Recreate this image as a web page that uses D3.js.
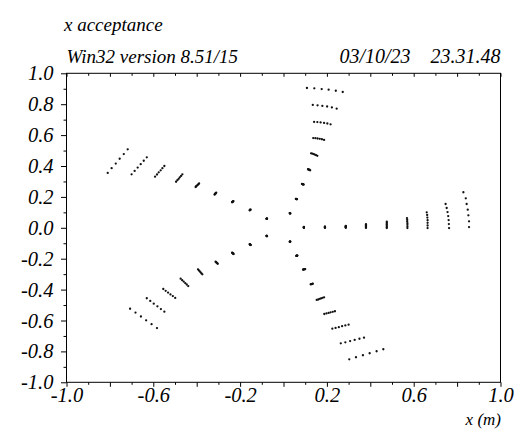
<!DOCTYPE html>
<html>
<head>
<meta charset="utf-8">
<script src="https://cdn.jsdelivr.net/npm/d3@7"></script>
<style>
  html, body { margin: 0; padding: 0; background: #fff; }
  svg text { font-family: "Liberation Serif", "DejaVu Serif", serif; font-style: italic; font-size: 19px; fill: #000; }
</style>
</head>
<body>
<svg id="chart" width="514" height="429"></svg>
<script>
// x acceptance: five arms, nine groups of tracked points per arm

var titleText = "x acceptance";
var versionText = "Win32 version 8.51/15";
var dateText = "03/10/23    23.31.48";
var xAxisTitle = "x (m)";

var xMajorTicks = [-1.0, -0.8, -0.6, -0.4, -0.2, 0.0, 0.2, 0.4, 0.6, 0.8, 1.0];
var xMinorTicks = [-0.9, -0.7, -0.5, -0.3, -0.1, 0.1, 0.3, 0.5, 0.7, 0.9];
var xTickLabels = [-1.0, -0.6, -0.2, 0.2, 0.6, 1.0];
var yMajorTicks = [-1.0, -0.8, -0.6, -0.4, -0.2, 0.0, 0.2, 0.4, 0.6, 0.8, 1.0];
var yMinorTicks = [-0.9, -0.7, -0.5, -0.3, -0.1, 0.1, 0.3, 0.5, 0.7, 0.9];

var armEast = [
  [[0.094,0.006],[0.094,0.005],[0.094,0.004],[0.094,0.003],[0.094,0.002],[0.094,0.001],[0.094,0.000]],
  [[0.191,0.008],[0.191,0.007],[0.191,0.005],[0.191,0.004],[0.191,0.003],[0.191,0.001],[0.191,0.000]],
  [[0.287,0.012],[0.287,0.010],[0.287,0.008],[0.287,0.006],[0.287,0.004],[0.287,0.002],[0.287,0.000]],
  [[0.380,0.023],[0.380,0.019],[0.380,0.015],[0.380,0.011],[0.380,0.007],[0.380,0.003],[0.380,-0.001]],
  [[0.476,0.039],[0.476,0.032],[0.476,0.025],[0.476,0.018],[0.476,0.011],[0.476,0.004],[0.476,-0.002]],
  [[0.569,0.063],[0.570,0.052],[0.570,0.041],[0.571,0.030],[0.571,0.019],[0.571,0.008],[0.571,-0.002]],
  [[0.660,0.100],[0.662,0.083],[0.663,0.066],[0.664,0.049],[0.664,0.032],[0.664,0.015],[0.664,-0.002]],
  [[0.747,0.154],[0.752,0.128],[0.756,0.102],[0.759,0.076],[0.761,0.050],[0.762,0.024],[0.763,-0.002]],
  [[0.829,0.230],[0.840,0.191],[0.844,0.154],[0.849,0.117],[0.852,0.081],[0.855,0.042],[0.855,0.005]]
];

var armNorth = [
  [[0.029,0.095],[0.029,0.095],[0.030,0.094],[0.030,0.094],[0.031,0.093],[0.031,0.093]],
  [[0.057,0.187],[0.058,0.187],[0.059,0.186],[0.060,0.186],[0.061,0.185],[0.062,0.185]],
  [[0.085,0.284],[0.087,0.283],[0.088,0.282],[0.090,0.282],[0.091,0.281],[0.093,0.280]],
  [[0.113,0.379],[0.115,0.378],[0.117,0.377],[0.119,0.375],[0.121,0.374],[0.123,0.372]],
  [[0.127,0.482],[0.133,0.480],[0.139,0.477],[0.144,0.474],[0.150,0.470],[0.156,0.466]],
  [[0.137,0.581],[0.147,0.580],[0.157,0.578],[0.167,0.576],[0.177,0.573],[0.187,0.569]],
  [[0.141,0.685],[0.156,0.684],[0.171,0.682],[0.187,0.679],[0.202,0.675],[0.217,0.670]],
  [[0.135,0.795],[0.157,0.793],[0.179,0.789],[0.201,0.785],[0.223,0.779],[0.245,0.771]],
  [[0.108,0.905],[0.142,0.903],[0.176,0.898],[0.208,0.894],[0.241,0.887],[0.273,0.879]]
];

var armNorthWest = [
  [[-0.078,0.058],[-0.078,0.058],[-0.077,0.059],[-0.077,0.059],[-0.076,0.060],[-0.076,0.060]],
  [[-0.156,0.113],[-0.155,0.114],[-0.154,0.115],[-0.154,0.116],[-0.153,0.117],[-0.152,0.118]],
  [[-0.237,0.165],[-0.236,0.167],[-0.235,0.168],[-0.233,0.170],[-0.232,0.171],[-0.231,0.173]],
  [[-0.318,0.215],[-0.316,0.217],[-0.315,0.220],[-0.313,0.222],[-0.312,0.225],[-0.310,0.227]],
  [[-0.405,0.264],[-0.402,0.269],[-0.399,0.273],[-0.395,0.278],[-0.392,0.282],[-0.389,0.287]],
  [[-0.495,0.298],[-0.489,0.308],[-0.483,0.317],[-0.478,0.327],[-0.472,0.336],[-0.466,0.346]],
  [[-0.592,0.331],[-0.583,0.345],[-0.575,0.359],[-0.566,0.372],[-0.558,0.386],[-0.549,0.400]],
  [[-0.700,0.346],[-0.686,0.368],[-0.672,0.390],[-0.658,0.412],[-0.644,0.434],[-0.630,0.456]],
  [[-0.810,0.355],[-0.792,0.386],[-0.773,0.416],[-0.755,0.447],[-0.736,0.477],[-0.718,0.508]]
];

var armSouthWest = [
  [[-0.078,-0.052],[-0.078,-0.052],[-0.077,-0.053],[-0.077,-0.053],[-0.076,-0.054],[-0.076,-0.054]],
  [[-0.156,-0.106],[-0.155,-0.107],[-0.154,-0.108],[-0.153,-0.110],[-0.152,-0.111],[-0.151,-0.112]],
  [[-0.237,-0.161],[-0.235,-0.163],[-0.234,-0.165],[-0.233,-0.166],[-0.231,-0.168],[-0.230,-0.170]],
  [[-0.313,-0.219],[-0.311,-0.222],[-0.309,-0.225],[-0.307,-0.227],[-0.305,-0.230],[-0.303,-0.233]],
  [[-0.394,-0.269],[-0.390,-0.275],[-0.386,-0.282],[-0.382,-0.288],[-0.378,-0.295],[-0.374,-0.301]],
  [[-0.474,-0.329],[-0.467,-0.339],[-0.460,-0.348],[-0.453,-0.358],[-0.446,-0.367],[-0.439,-0.377]],
  [[-0.554,-0.396],[-0.543,-0.408],[-0.532,-0.419],[-0.521,-0.431],[-0.510,-0.442],[-0.499,-0.454]],
  [[-0.630,-0.456],[-0.614,-0.473],[-0.598,-0.491],[-0.581,-0.508],[-0.565,-0.526],[-0.549,-0.543]],
  [[-0.707,-0.524],[-0.682,-0.549],[-0.657,-0.574],[-0.633,-0.599],[-0.608,-0.624],[-0.583,-0.649]]
];

var armSouthEast = [
  [[0.029,-0.091],[0.029,-0.091],[0.030,-0.090],[0.030,-0.090],[0.031,-0.090],[0.031,-0.089]],
  [[0.059,-0.182],[0.060,-0.182],[0.061,-0.181],[0.062,-0.181],[0.063,-0.180],[0.064,-0.180]],
  [[0.090,-0.271],[0.092,-0.270],[0.094,-0.269],[0.096,-0.269],[0.098,-0.268],[0.100,-0.267]],
  [[0.125,-0.366],[0.127,-0.365],[0.129,-0.364],[0.131,-0.364],[0.133,-0.363],[0.135,-0.362]],
  [[0.153,-0.467],[0.160,-0.464],[0.167,-0.460],[0.173,-0.457],[0.180,-0.453],[0.187,-0.450]],
  [[0.188,-0.558],[0.198,-0.554],[0.208,-0.551],[0.217,-0.547],[0.227,-0.544],[0.237,-0.540]],
  [[0.225,-0.653],[0.240,-0.648],[0.255,-0.643],[0.270,-0.637],[0.285,-0.632],[0.300,-0.627]],
  [[0.264,-0.748],[0.285,-0.741],[0.307,-0.733],[0.328,-0.726],[0.350,-0.718],[0.371,-0.711]],
  [[0.303,-0.851],[0.334,-0.838],[0.366,-0.825],[0.397,-0.812],[0.429,-0.799],[0.460,-0.786]]
];

(function () {
  'use strict';

  var frame = { left: 66.5, right: 500.5, top: 73.3, bottom: 382.3 };
  var svg = d3.select('#chart');

  var x = d3.scaleLinear().domain([-1, 1]).range([frame.left, frame.right]);
  var y = d3.scaleLinear().domain([-1, 1]).range([frame.bottom, frame.top]);

  function fmt(d) {
    return xTickLabels.indexOf(d) >= 0 ? d.toFixed(1) : '';
  }

  // bottom axis, ticks pointing out
  svg.append('g')
    .attr('transform', 'translate(0,' + frame.bottom + ')')
    .call(d3.axisBottom(x).tickValues(xMinorTicks).tickSize(2.5).tickFormat(''));
  svg.append('g')
    .attr('class', 'xlab')
    .attr('transform', 'translate(0,' + frame.bottom + ')')
    .call(d3.axisBottom(x).tickValues(xMajorTicks).tickSize(4.5).tickPadding(0.5).tickFormat(fmt));

  // top axis, ticks pointing in
  svg.append('g')
    .attr('transform', 'translate(0,' + frame.top + ')')
    .call(d3.axisBottom(x).tickValues(xMinorTicks).tickSize(2.5).tickFormat(''));
  svg.append('g')
    .attr('transform', 'translate(0,' + frame.top + ')')
    .call(d3.axisBottom(x).tickValues(xMajorTicks).tickSize(3.5).tickFormat(''));

  // left axis
  svg.append('g')
    .attr('transform', 'translate(' + frame.left + ',0)')
    .call(d3.axisLeft(y).tickValues(yMinorTicks).tickSize(3).tickFormat(''));
  svg.append('g')
    .attr('class', 'ylab')
    .attr('transform', 'translate(' + frame.left + ',0)')
    .call(d3.axisLeft(y).tickValues(yMajorTicks).tickSize(5.5).tickPadding(7.5)
      .tickFormat(function (d) { return d.toFixed(1); }));

  svg.selectAll('.domain').remove();
  svg.selectAll('.tick line').attr('stroke', '#000');
  svg.selectAll('.tick text')
    .attr('font-family', null).attr('font-size', null)
    .style('font-family', '"Liberation Serif", serif')
    .style('font-style', 'italic')
    .style('font-size', '20.5px')
    .attr('fill', '#000');

  // frame
  svg.append('rect')
    .attr('x', frame.left).attr('y', frame.top)
    .attr('width', frame.right - frame.left)
    .attr('height', frame.bottom - frame.top)
    .attr('fill', 'none')
    .attr('stroke', '#000')
    .attr('stroke-width', 1);

  // points
  var arms = [armEast, armNorth, armNorthWest, armSouthWest, armSouthEast];
  var pts = [];
  arms.forEach(function (arm) {
    arm.forEach(function (group) {
      group.forEach(function (p) { pts.push(p); });
    });
  });

  svg.append('g').selectAll('circle')
    .data(pts)
    .enter().append('circle')
    .attr('cx', function (d) { return x(d[0]); })
    .attr('cy', function (d) { return y(d[1]); })
    .attr('r', 1.15)
    .attr('fill', '#111');

  // texts
  svg.append('text').attr('x', 64).attr('y', 30.5).text(titleText);
  svg.append('text').attr('x', 66.5).attr('y', 62.5).text(versionText);
  svg.append('text').attr('x', 500.5).attr('y', 62.5)
    .attr('text-anchor', 'end').style('white-space', 'pre')
    .style('font-size', '20px').text(dateText);
  svg.append('text').attr('x', 501).attr('y', 425)
    .attr('text-anchor', 'end').style('font-size', '17px').text(xAxisTitle);
})();
</script>
</body>
</html>
